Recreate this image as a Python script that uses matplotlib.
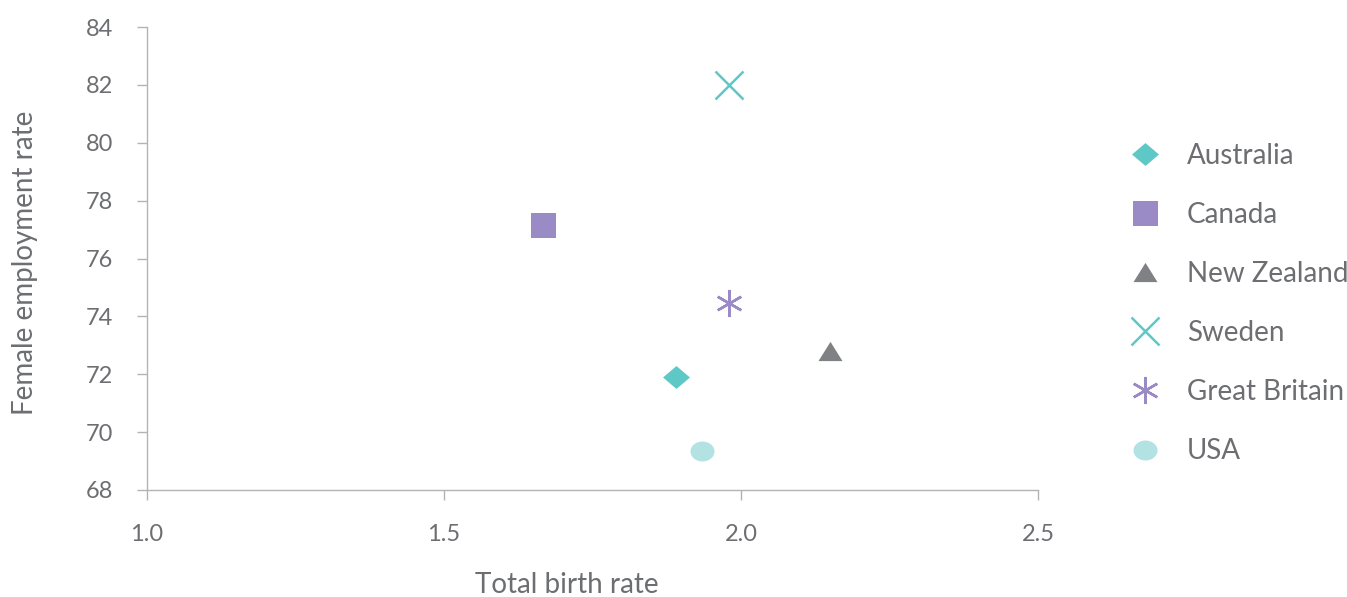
import numpy as np
import matplotlib.pyplot as plt
from matplotlib.lines import Line2D

# Data
countries = ['Australia', 'Canada', 'New Zealand', 'Sweden', 'Great Britain', 'USA']
birth_rate = [1.89, 1.667, 2.15, 1.98, 1.98, 1.934]
employment = [71.9, 77.15, 72.8, 82.0, 74.45, 69.35]

# custom, slightly flattened marker shapes
diamond = [(-1, 0), (0, 0.85), (1, 0), (0, -0.85), (-1, 0)]
triangle = [(0, 0.8), (-1, -0.8), (1, -0.8), (0, 0.8)]
t = np.linspace(0, 2 * np.pi, 60)
ellipse = list(zip(np.cos(t), 0.83 * np.sin(t)))

markers = [diamond, 's', triangle, 'x', (6, 2, 0), ellipse]
colors = ['#5ec8c7', '#9a8ac6', '#808184', '#5ec8c7', '#9a8ac6', '#b3e2e2']
sizes = [19.4, 18, 17.3, 19.5, 19.5, 17.3]
edge_w = [0, 0, 0, 1.8, 1.8, 0]
text_col = '#6d6e71'
axis_col = '#b3b3b6'

plt.rcParams['font.family'] = ['Lato', 'DejaVu Sans']

fig = plt.figure(figsize=(13.47, 5.97), dpi=100)
ax = fig.add_axes([147 / 1347, 1 - 490 / 597, (1038 - 147) / 1347, (490 - 27) / 597])

handles = []
for x, y, m, c, s, lw in zip(birth_rate, employment, markers, colors, sizes, edge_w):
    style = dict(marker=m, markersize=s, color=c, markeredgewidth=lw, linestyle='none')
    ax.plot(x, y, **style)
    handles.append(Line2D([], [], **style))

ax.set_xlim(1.0, 2.5)
ax.set_ylim(68, 84)
ax.set_xticks([1.0, 1.5, 2.0, 2.5])
ax.set_xticklabels(['1.0', '1.5', '2.0', '2.5'])
ax.set_yticks(range(68, 85, 2))

for side in ['top', 'right']:
    ax.spines[side].set_visible(False)
for side in ['left', 'bottom']:
    ax.spines[side].set_color(axis_col)
    ax.spines[side].set_linewidth(1.0)

ax.tick_params(axis='both', colors=axis_col, labelcolor=text_col, labelsize=17,
               length=7.2, width=1.0)
ax.tick_params(axis='x', pad=17.5)
ax.tick_params(axis='y', pad=17)

ax.set_xlabel('Total birth rate', fontsize=20, color=text_col)
ax.xaxis.label.set_va('center')
ax.xaxis.set_label_coords(0.471, -0.206)
ax.set_ylabel('Female employment rate', fontsize=20, color=text_col)
ax.yaxis.label.set_va('center')
ax.yaxis.set_label_coords(-0.137, 0.49)

fig.legend(handles, countries, loc='upper left', bbox_to_anchor=(1125.5 / 1347, 1 - 143 / 597),
           frameon=False, fontsize=20, labelcolor=text_col, labelspacing=1.19,
           handletextpad=0.8, handlelength=1.4, borderaxespad=0, borderpad=0)

fig.savefig('out.png', dpi=100)
